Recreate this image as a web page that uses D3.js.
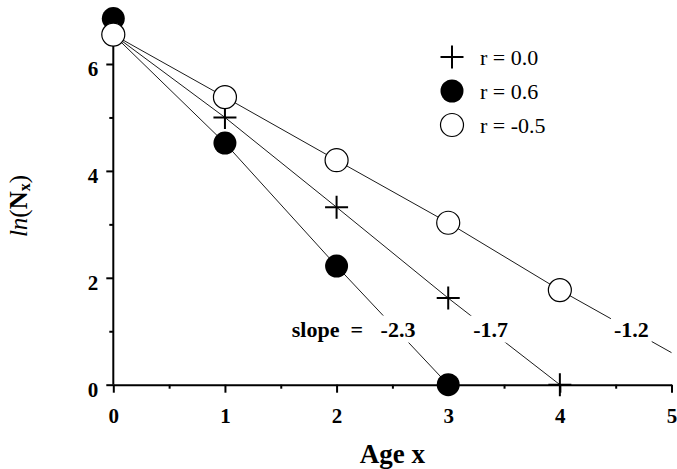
<!DOCTYPE html>
<html>
<head>
    <title>ln(Nx) vs age</title>
    <script src="https://d3js.org/d3.v7.min.js"></script>
    <style type="text/css">
        body { margin: 0; background: #ffffff; }
        svg { background: #ffffff; }
        text { font-family: "Liberation Serif", "Times New Roman", serif; fill: #000; }
        .tick text { font-size: 21px; font-weight: bold; }
        .domain, .tick line { stroke: #000; stroke-width: 2; }
        .series-line { fill: none; stroke: #000; stroke-width: 0.9; }
    </style>
</head>
<body>
<div id="chart"></div>
<script>
// data
var ages = [0, 1, 2, 3, 4]
var lnN0 = 6.55                                   // common starting point of the lines
var lnN_r00 = [6.55, 5.0, 3.32, 1.62, 0]          // r = 0.0  (plus)
var lnN_r06 = [6.85, 4.52, 2.22, 0]               // r = 0.6  (filled)
var lnN_rm05 = [6.55, 5.38, 4.2, 3.03, 1.77]      // r = -0.5 (open)
var rm05End = [5, 0.6]                            // line r=-0.5 continues to age 5
var slopeLabels = ["-2.3", "-1.7", "-1.2"]
var legendLabels = ["r = 0.0", "r = 0.6", "r = -0.5"]
var xMajor = [0, 1, 2, 3, 4, 5]
var xMinor = [0.5, 1.5, 2.5, 3.5, 4.5]
var yMajor = [0, 2, 4, 6]
var yMinor = [1, 3, 5]

var width = 677, height = 469

var svg = d3.select("#chart")
    .append("svg")
    .attr("width", width)
    .attr("height", height)

var x = d3.scaleLinear().domain([0, 5]).range([113.3, 671.5])
var y = d3.scaleLinear().domain([0, 6]).range([384.7, 64])
var yAxisTop = 6.5

// ---- axes
var gx = svg.append("g")
    .attr("transform", "translate(0," + y(0) + ")")
    .call(d3.axisBottom(x).tickValues(xMajor).tickFormat(d3.format("d"))
        .tickSize(8).tickSizeOuter(0).tickPadding(15))
gx.selectAll(".tick text").attr("dy", "0.71em")
svg.append("g")
    .attr("transform", "translate(0," + y(0) + ")")
    .call(d3.axisBottom(x).tickValues(xMinor).tickFormat("").tickSize(4))
    .select(".domain").remove()

var gy = svg.append("g")
    .attr("transform", "translate(" + x(0) + ",0)")
    .call(d3.axisLeft(y).tickValues(yMajor).tickFormat(d3.format("d"))
        .tickSize(7).tickSizeOuter(0).tickPadding(8))
gy.select(".domain").attr("d", "M0," + y(0) + "V" + y(yAxisTop))
gy.selectAll(".tick text").attr("dy", "0.55em")
svg.append("g")
    .attr("transform", "translate(" + x(0) + ",0)")
    .call(d3.axisLeft(y).tickValues(yMinor).tickFormat("").tickSize(4))
    .select(".domain").remove()

// ---- lines
var line = d3.line().x(d => x(d[0])).y(d => y(d[1]))
function linePoints(vals, extra) {
    var pts = vals.map((v, i) => [ages[i], i == 0 ? lnN0 : v])
    if (extra) pts.push(extra)
    return pts
}
svg.append("path").attr("class", "series-line").attr("d", line(linePoints(lnN_r06)))
svg.append("path").attr("class", "series-line").attr("d", line(linePoints(lnN_r00)))
svg.append("path").attr("class", "series-line").attr("d", line(linePoints(lnN_rm05, rm05End)))

// ---- slope labels (white box breaks the line)
var slopePos = [[2.55, 0.9], [3.38, 0.9], [4.64, 0.9]]
var slopeG = svg.append("g")
slopeLabels.forEach(function(s, i) {
    var t = slopeG.append("text")
        .attr("x", x(slopePos[i][0]))
        .attr("y", y(slopePos[i][1]))
        .attr("text-anchor", "middle")
        .style("font-size", "22px").style("font-weight", "bold")
        .text(s)
    var b = t.node().getBBox()
    slopeG.insert("rect", "text")
        .attr("x", b.x - 3).attr("y", b.y - 1)
        .attr("width", b.width + 6).attr("height", b.height + 2)
        .attr("fill", "#fff")
})
svg.append("text")
    .attr("x", x(slopePos[0][0]) - 35)
    .attr("y", y(slopePos[0][1]))
    .attr("text-anchor", "end")
    .style("font-size", "22px").style("font-weight", "bold")
    .attr("xml:space", "preserve")
    .text("slope  =")

// ---- markers
var R = 11.5
var plus = "M-11.5,0H11.5M0,-11.5V11.5"
svg.selectAll(".plus")
    .data(lnN_r00)
    .enter().append("path")
    .attr("class", "plus")
    .attr("d", plus)
    .attr("transform", (d, i) => "translate(" + x(ages[i]) + "," + y(d) + ")")
    .attr("stroke", "#000").attr("stroke-width", 2)
svg.selectAll(".filled")
    .data(lnN_r06)
    .enter().append("circle")
    .attr("class", "filled")
    .attr("cx", (d, i) => x(ages[i])).attr("cy", d => y(d)).attr("r", R)
    .attr("fill", "#000")
svg.selectAll(".open")
    .data(lnN_rm05)
    .enter().append("circle")
    .attr("class", "open")
    .attr("cx", (d, i) => x(ages[i])).attr("cy", d => y(d)).attr("r", R)
    .attr("fill", "#fff").attr("stroke", "#000").attr("stroke-width", 1.2)

// ---- legend
var lg = svg.append("g").attr("transform", "translate(452,57)")
legendLabels.forEach(function(l, i) {
    var row = lg.append("g").attr("transform", "translate(0," + (i * 34) + ")")
    if (i == 0) row.append("path").attr("d", plus).attr("stroke", "#000").attr("stroke-width", 2)
    if (i == 1) row.append("circle").attr("r", R).attr("fill", "#000")
    if (i == 2) row.append("circle").attr("r", R).attr("fill", "#fff").attr("stroke", "#000").attr("stroke-width", 1.2)
    row.append("text").attr("x", 28).attr("y", 7.5)
        .style("font-size", "22px")
        .text(l)
})

// ---- axis titles
svg.append("text")
    .attr("x", (x(0) + x(5)) / 2)
    .attr("y", 463)
    .attr("text-anchor", "middle")
    .style("font-size", "27px").style("font-weight", "bold")
    .text("Age x")

var yt = svg.append("text")
    .attr("transform", "translate(27,206) rotate(-90)")
    .attr("text-anchor", "middle")
    .style("font-size", "25px")
yt.append("tspan").style("font-style", "italic").text("ln")
yt.append("tspan").text("(")
yt.append("tspan").style("font-weight", "bold").text("N")
yt.append("tspan").style("font-weight", "bold").style("font-size", "16px").attr("dy", 3).text("x")
yt.append("tspan").attr("dy", -3).text(")")
</script>
</body>
</html>
